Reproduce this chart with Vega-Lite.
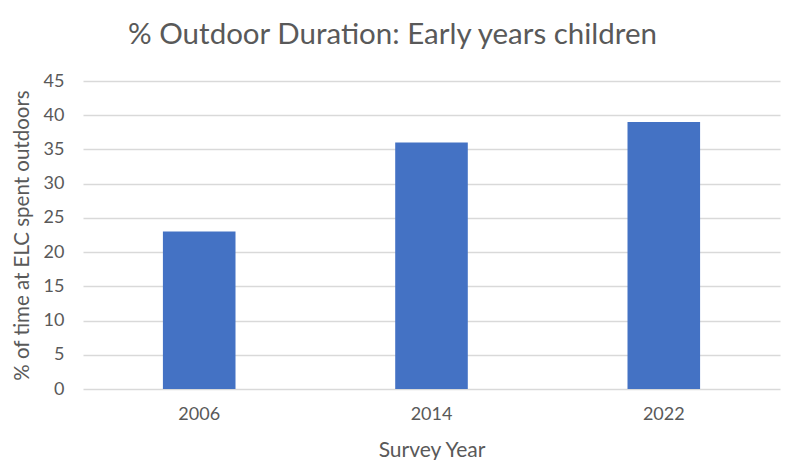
{
  "$schema": "https://vega.github.io/schema/vega-lite/v6.json",
  "width": 697,
  "height": 308,
  "autosize": "none",
  "padding": {"left": 83, "top": 81, "right": 14, "bottom": 71},
  "background": "white",
  "data": {"values": [
    {"year": "2006", "pct": 23},
    {"year": "2014", "pct": 36},
    {"year": "2022", "pct": 39}
  ]},
  "title": {
    "text": "% Outdoor Duration: Early years children",
    "font": "Lato",
    "fontSize": 29.5,
    "fontWeight": "normal",
    "color": "#595959",
    "anchor": "middle",
    "dx": -39,
    "offset": 22
  },
  "mark": {"type": "bar", "color": "#4472C4"},
  "encoding": {
    "x": {
      "field": "year",
      "type": "nominal",
      "scale": {"paddingInner": 0.6875, "paddingOuter": 0.344},
      "axis": {
        "title": "Survey Year",
        "titleFont": "Lato",
        "titleFontSize": 21,
        "titleFontWeight": "normal",
        "titleColor": "#595959",
        "titlePadding": 16,
        "labelFont": "Lato",
        "labelFontSize": 18,
        "labelColor": "#595959",
        "labelAngle": 0,
        "labelPadding": 16,
        "ticks": false,
        "domain": false
      }
    },
    "y": {
      "field": "pct",
      "type": "quantitative",
      "scale": {"domain": [0, 45]},
      "axis": {
        "values": [0, 5, 10, 15, 20, 25, 30, 35, 40, 45],
        "title": "% of time at ELC spent outdoors",
        "titleFont": "Lato",
        "titleFontSize": 20.5,
        "titleFontWeight": "normal",
        "titleColor": "#595959",
        "titlePadding": 11,
        "labelFont": "Lato",
        "labelFontSize": 18,
        "labelColor": "#595959",
        "labelPadding": 19,
        "ticks": false,
        "domain": false,
        "grid": true,
        "gridColor": "#d9d9d9",
        "gridWidth": 1.3
      }
    }
  },
  "config": {"view": {"stroke": null}}
}
